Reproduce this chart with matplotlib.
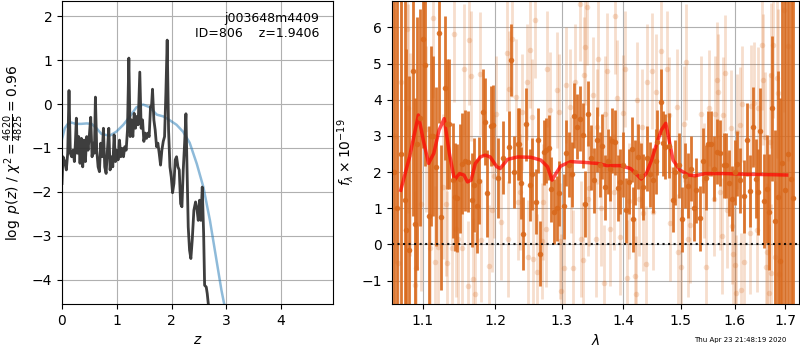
import numpy as np
import matplotlib
matplotlib.use("Agg")
import matplotlib.pyplot as plt
from matplotlib.ticker import FixedLocator, NullLocator, FixedFormatter

# p(z) curve (black)
z_pz = [0.0, 0.018, 0.049, 0.079, 0.104, 0.128, 0.152, 0.177, 0.201, 0.226, 0.244, 0.262, 0.280,
        0.305, 0.329, 0.354, 0.378, 0.402, 0.427, 0.451, 0.476, 0.500, 0.524, 0.549, 0.573, 0.591,
        0.610, 0.634, 0.659, 0.683, 0.707, 0.732, 0.756, 0.780, 0.805, 0.829, 0.854, 0.878, 0.902,
        0.927, 0.951, 0.976, 1.000, 1.024, 1.049, 1.073, 1.098, 1.122, 1.146, 1.171, 1.195, 1.220,
        1.244, 1.268, 1.293, 1.317, 1.341, 1.366, 1.390, 1.420, 1.445, 1.470, 1.494, 1.518, 1.543,
        1.567, 1.591, 1.616, 1.634, 1.652, 1.677, 1.701, 1.726, 1.750, 1.774, 1.799, 1.823, 1.848,
        1.872, 1.896, 1.920, 1.945, 1.970, 1.994, 2.018, 2.043, 2.067, 2.091, 2.116, 2.140, 2.165,
        2.189, 2.213, 2.238, 2.262, 2.274, 2.304, 2.328, 2.352, 2.377, 2.407, 2.438, 2.462, 2.487,
        2.511, 2.535, 2.560, 2.585, 2.603, 2.633, 2.651, 2.676]
logp = [-1.81, -1.20, -1.31, -1.50, -1.12, 0.31, -1.12, -1.20, -1.05, -1.31, -0.89, -0.32, -1.12,
        -0.74, -1.35, -0.78, -1.43, -0.82, -1.31, -0.74, -1.05, -0.70, -0.30, -1.20, -0.89, -1.12,
        0.16, -1.05, -1.43, -1.54, -0.89, -1.20, -0.55, -1.43, -1.58, -1.05, -0.55, -1.50, -1.20,
        -1.43, -0.70, -1.31, -1.05, -1.27, -0.82, -1.20, -1.01, -1.20, -0.97, -1.05, -0.59, 1.05,
        -0.74, -0.36, -0.74, -0.21, -0.55, -0.28, -0.47, 0.73, -0.55, -0.36, -0.85, -0.66, -0.78,
        -0.66, -0.74, -0.05, -0.05, 0.34, -0.36, -0.59, -0.97, -0.89, -1.12, -1.39, -1.05, -0.85,
        -0.74, 0.25, 1.46, -0.59, -1.43, -1.66, -2.02, -1.81, -1.27, -1.20, -1.43, -1.50, -2.27,
        -2.34, -1.50, -0.89, -0.22, -0.97, -2.80, -3.33, -3.52, -3.10, -2.42, -2.23, -2.38, -2.65,
        -2.19, -2.65, -1.89, -2.95, -4.13, -4.17, -4.32, -4.62]

# prior (blue)
z_prior = [0.0, 0.05, 0.10, 0.17, 0.25, 0.35, 0.45, 0.54, 0.63, 0.72, 0.87, 0.99, 1.12, 1.24,
           1.36, 1.48, 1.60, 1.73, 1.85, 1.97, 2.09, 2.21, 2.33, 2.46, 2.58, 2.70, 2.82, 2.91, 2.97]
prior = [-0.80, -0.55, -0.46, -0.42, -0.45, -0.45, -0.44, -0.45, -0.55, -0.68, -0.72, -0.63,
         -0.47, -0.28, -0.07, -0.01, -0.07, -0.24, -0.28, -0.37, -0.47, -0.63, -0.88, -1.36,
         -1.89, -2.65, -3.56, -4.24, -4.62]

# spectrum, dark points
wave1 = [1.063, 1.067, 1.072, 1.0765, 1.079, 1.082, 1.087, 1.090, 1.093, 1.097, 1.1006, 1.103,
         1.108, 1.111, 1.114, 1.118, 1.1224, 1.125, 1.1304, 1.133, 1.136, 1.1406, 1.144, 1.147,
         1.151, 1.154, 1.158, 1.161, 1.1676, 1.170, 1.174, 1.1775, 1.183, 1.186, 1.189, 1.1945,
         1.197, 1.205, 1.211, 1.220, 1.223, 1.228, 1.233, 1.2355, 1.238, 1.241, 1.246, 1.251,
         1.254, 1.260, 1.264, 1.267, 1.273, 1.276, 1.280, 1.284, 1.288, 1.292, 1.296, 1.303,
         1.307, 1.311, 1.316, 1.320, 1.324, 1.329, 1.333, 1.337, 1.342, 1.346, 1.351, 1.357,
         1.361, 1.365, 1.370, 1.374, 1.378, 1.381, 1.386, 1.391, 1.395, 1.400, 1.404, 1.410,
         1.414, 1.417, 1.420, 1.424, 1.429, 1.434, 1.440, 1.445, 1.451, 1.455, 1.458, 1.464,
         1.468, 1.472, 1.478, 1.485, 1.490, 1.496, 1.502, 1.507, 1.513, 1.518, 1.523, 1.527,
         1.5346, 1.541, 1.545, 1.550, 1.556, 1.561, 1.567, 1.572, 1.579, 1.584, 1.590, 1.595,
         1.600, 1.605, 1.611, 1.618, 1.623, 1.6295, 1.635, 1.642, 1.646, 1.650, 1.657, 1.663,
         1.668, 1.673, 1.680, 1.685, 1.690, 1.694, 1.700, 1.706, 1.711, 1.717]
flux1 = [2.0, 1.0, 2.5, 1.24, 0.41, -0.14, 4.79, 0.56, 2.79, 3.5, 5.67, 4.97,
         0.78, 3.0, 3.0, 2.15, 5.86, 0.75, 4.33, 3.34, 3.32, 1.77, 1.31, 1.29,
         1.82, 2.23, 2.32, 2.29, 1.22, 1.64, 1.06, 1.76, 3.65, 3.39, 1.41, 3.28,
         3.3, 1.83, 2.4, 2.70, 5.10, 2.0, 2.77, 2.77, 1.70, 0.30, 3.32, 1.64,
         1.94, 1.18, 2.88, -0.25, 2.55, 2.6, 2.68, 1.52, 0.9, 1.0, 1.41, 1.05,
         2.53, 2.2, 1.94, 3.56, 3.26, 3.48, 3.02, 1.12, 3.62, 2.4, 1.77, 2.90,
         2.2, 2.72, 1.58, 2.3, 2.10, 2.87, 2.83, 1.56, 1.74, 2.2, 0.94, 1.74,
         2.63, 0.70, 2.0, 2.42, 1.9, 1.59, 2.38, 1.94, 1.78, 2.3, 2.83, 3.94,
         2.8, 2.70, 2.73, 1.24, 2.0, 2.19, 0.70, 1.9, 1.62, 2.1, 1.0, 1.5,
         0.72, 2.31, 1.85, 2.79, 2.79, 2.10, 2.56, 2.53, 2.19, 2.19, 1.70, 1.27,
         2.0, 2.23, 1.77, 1.33, 2.90, 1.48, 3.25, 1.82, 1.45, 3.13, 1.20, 1.54,
         0.89, 3.76, 0.66, 1.30, -0.45, 2.25, 1.5, 2.50, 1.8, 1.29]
err1 = [7.0, 7.0, 6.0, 5.5, 5.0, 4.8, 4.0, 3.5, 3.5, 3.0, 3.0, 2.8,
        2.5, 2.5, 2.2, 2.2, 2.5, 2.0, 2.0, 1.8, 1.8, 1.6, 1.5, 1.5,
        1.5, 1.4, 1.4, 1.4, 1.3, 1.3, 1.3, 1.2, 1.2, 1.2, 1.2, 1.1,
        1.1, 1.1, 1.0, 1.0, 1.0, 1.0, 1.0, 1.0, 1.0, 1.0, 1.0, 1.0,
        1.0, 0.9, 0.9, 0.9, 0.9, 0.9, 0.9, 0.9, 0.9, 0.9, 0.9, 0.9,
        0.9, 0.9, 0.9, 0.9, 0.9, 0.9, 0.9, 0.9, 0.9, 0.9, 0.9, 0.9,
        0.9, 0.9, 0.9, 0.9, 0.9, 0.9, 0.9, 0.9, 0.9, 0.9, 0.9, 0.9,
        0.9, 0.9, 0.9, 0.9, 0.9, 0.9, 0.9, 0.9, 0.9, 0.9, 0.9, 0.9,
        0.9, 0.9, 0.9, 0.9, 0.9, 0.9, 0.9, 0.9, 0.9, 0.9, 0.9, 0.9,
        0.9, 0.9, 0.9, 0.9, 0.9, 0.9, 0.9, 0.9, 0.9, 0.9, 0.9, 0.9,
        0.9, 0.9, 0.9, 1.0, 1.0, 1.0, 1.1, 1.1, 1.2, 1.2, 1.3, 1.5,
        1.6, 2.0, 2.5, 3.5, 4.5, 5.5, 6.5, 7.0, 7.0, 7.0]

# spectrum, light points (other beam)
wave2 = [1.064, 1.068, 1.072, 1.0795, 1.081, 1.084, 1.0896, 1.091, 1.0985, 1.105, 1.1138, 1.110,
         1.116, 1.120, 1.128, 1.131, 1.133, 1.140, 1.143, 1.145, 1.148, 1.153, 1.156, 1.1615,
         1.163, 1.166, 1.169, 1.172, 1.178, 1.180, 1.191, 1.195, 1.198, 1.202, 1.209, 1.217,
         1.219, 1.221, 1.224, 1.231, 1.234, 1.237, 1.240, 1.247, 1.249, 1.252, 1.255, 1.256,
         1.259, 1.262, 1.269, 1.271, 1.276, 1.278, 1.282, 1.293, 1.2955, 1.297, 1.299, 1.303,
         1.307, 1.313, 1.315, 1.318, 1.321, 1.329, 1.331, 1.334, 1.337, 1.336, 1.340, 1.342,
         1.344, 1.350, 1.356, 1.354, 1.358, 1.363, 1.370, 1.368, 1.372, 1.378, 1.384, 1.386,
         1.389, 1.394, 1.400, 1.403, 1.406, 1.410, 1.419, 1.421, 1.423, 1.426, 1.431, 1.434,
         1.438, 1.441, 1.448, 1.450, 1.456, 1.464, 1.475, 1.478, 1.480, 1.493, 1.494, 1.500,
         1.506, 1.510, 1.512, 1.516, 1.536, 1.542, 1.545, 1.551, 1.560, 1.563, 1.567, 1.569,
         1.572, 1.577, 1.575, 1.581, 1.585, 1.592, 1.594, 1.597, 1.600, 1.6047, 1.603, 1.611,
         1.613, 1.615, 1.618, 1.629, 1.631, 1.638, 1.644, 1.646, 1.653, 1.655, 1.659, 1.661,
         1.664, 1.668, 1.670, 1.671, 1.672, 1.675, 1.680, 1.684, 1.686, 1.688, 1.698, 1.705]
flux2 = [3.0, -0.5, 4.5, 5.97, 3.76, 2.49, -1.11, -0.65, 1.12, 3.2, 6.25, -0.09,
         -0.48, -0.06, 1.60, 1.12, -0.52, -0.11, 5.83, 0.44, 0.16, -0.11, 4.84, -1.15,
         5.65, 4.65, -0.96, -1.37, 4.72, 0.12, -0.6, 0.95, 1.89, 3.60, 0.62, 5.28,
         0.16, 4.31, 5.68, 4.08, 1.18, 1.46, 3.67, 4.5, -0.36, 5.37, 3.53, -0.39,
         6.21, -0.76, 0.09, 1.18, 0.42, 4.86, 3.72, 4.28, 3.67, 0.09, -1.3, -0.66,
         4.4, 3.81, 1.92, -0.66, 4.5, 6.66, 0.16, -0.43, 5.46, 4.68, 6.57, 1.27,
         1.55, 4.13, 3.26, 0.16, 5.14, 1.0, 3.62, -1.06, 4.79, 0.44, 1.46, 6.31,
         4.04, 0.21, 3.64, 4.86, -0.92, 1.20, -0.87, -1.36, 3.99, 1.27, 3.24, 0.88,
         -0.53, 4.50, 4.79, 0.90, 4.22, 5.34, 4.86, 3.58, 0.58, 3.81, -0.2, -0.62,
         3.33, 5.05, 0.16, 0.53, 3.62, 1.77, -0.62, 3.78, 1.27, 3.62, 4.54, 4.22,
         1.45, 3.57, 0.23, 4.75, 0.95, 3.21, 0.51, -0.25, -0.57, 3.12, -1.34, 3.3,
         -1.27, 3.88, -0.48, 0.32, 3.82, 3.9, 0.39, 3.76, 5.51, 4.56, 2.98, -0.62,
         -0.21, -1.34, 2.84, -0.79, 4.68, 5.51, -0.34, 4.59, 4.2, -0.82, 6.47, 5.5]
err2 = [3.5, 3.5, 3.2, 3.0, 2.9, 2.8, 2.6, 2.6, 2.4, 2.3, 2.2, 2.2,
        2.1, 2.1, 2.0, 2.0, 2.0, 1.9, 1.9, 1.9, 1.9, 1.8, 1.8, 1.8,
        1.8, 1.8, 1.7, 1.7, 1.7, 1.7, 1.7, 1.7, 1.7, 1.6, 1.6, 1.6,
        1.6, 1.6, 1.6, 1.6, 1.6, 1.6, 1.6, 1.6, 1.6, 1.6, 1.6, 1.6,
        1.6, 1.6, 1.6, 1.6, 1.6, 1.6, 1.6, 1.6, 1.6, 1.6, 1.6, 1.6,
        1.6, 1.6, 1.6, 1.6, 1.6, 1.6, 1.6, 1.6, 1.6, 1.6, 1.6, 1.6,
        1.6, 1.6, 1.6, 1.6, 1.6, 1.6, 1.6, 1.6, 1.6, 1.6, 1.6, 1.6,
        1.6, 1.6, 1.6, 1.6, 1.6, 1.6, 1.6, 1.6, 1.6, 1.6, 1.6, 1.6,
        1.6, 1.6, 1.6, 1.6, 1.6, 1.6, 1.6, 1.6, 1.6, 1.6, 1.6, 1.6,
        1.6, 1.6, 1.6, 1.6, 1.6, 1.6, 1.6, 1.6, 1.6, 1.6, 1.6, 1.6,
        1.6, 1.6, 1.6, 1.6, 1.6, 1.6, 1.6, 1.6, 1.6, 1.6, 1.6, 1.6,
        1.6, 1.6, 1.6, 1.7, 1.7, 1.7, 1.7, 1.7, 1.8, 1.8, 1.8, 1.8,
        1.9, 1.9, 1.9, 1.9, 2.0, 2.0, 2.1, 2.2, 2.3, 2.3, 2.8, 3.2]

# best-fit model (red)
wave_m = [1.0716, 1.083, 1.0945, 1.101, 1.108, 1.115, 1.122, 1.129, 1.136, 1.143, 1.150, 1.156,
          1.161, 1.166, 1.172, 1.179, 1.186, 1.193, 1.2025, 1.2076, 1.218, 1.233, 1.253, 1.268,
          1.278, 1.285, 1.291, 1.2985, 1.314, 1.336, 1.357, 1.373, 1.395, 1.412, 1.421, 1.430,
          1.439, 1.448, 1.457, 1.465, 1.473, 1.479, 1.486, 1.498, 1.513, 1.526, 1.544, 1.580,
          1.625, 1.671, 1.703]
model = [1.50, 2.42, 3.58, 2.88, 2.24, 2.52, 3.16, 3.48, 2.52, 1.78, 1.96, 1.92,
         1.73, 1.78, 2.24, 2.42, 2.47, 2.42, 2.15, 2.10, 2.35, 2.42, 2.41, 2.33,
         2.15, 1.78, 1.96, 2.17, 2.29, 2.27, 2.24, 2.18, 2.18, 2.10, 1.96, 1.81,
         1.96, 2.33, 2.79, 3.16, 3.35, 2.88, 2.33, 2.06, 1.92, 1.90, 1.96, 1.96,
         1.94, 1.93, 1.92]

orange = '#d9691c'

fig = plt.figure(figsize=(8, 3.5), dpi=100)
ax1 = fig.add_axes([0.0775, 0.131, 0.339, 0.866])
ax2 = fig.add_axes([0.4896, 0.131, 0.5095, 0.866])

# left: p(z)
ax1.plot(z_prior, prior, color='#1f77b4', alpha=0.5, lw=1.8)
ax1.plot(z_pz, logp, color='0.2', lw=2, alpha=0.95)
ax1.set_xlim(0, 4.95)
ax1.set_ylim(-4.56, 2.35)
ax1.set_xticks([0, 1, 2, 3, 4])
ax1.set_yticks([-4, -3, -2, -1, 0, 1, 2])
ax1.grid()
ax1.set_xlabel('$z$')
ax1.set_ylabel(r'$\log\ p(z)$' + ' / ' + r'$\chi^2=\frac{4620}{4825}=0.96$')
ax1.text(0.948, 0.965, 'j003648m4409\nID=806    z=1.9406', transform=ax1.transAxes,
         ha='right', va='top', fontsize=9, linespacing=1.25)

# right: spectrum
ax2.errorbar(wave2, flux2, yerr=err2, fmt='o', color=orange, alpha=0.22, ms=4,
             elinewidth=2, mec='none')
ax2.errorbar(wave1, flux1, yerr=err1, fmt='o', color=orange, alpha=0.9, ms=4,
             elinewidth=2, mec='none')
ax2.plot(wave_m, model, color='r', alpha=0.7, lw=2.5)
ax2.axhline(0, color='k', ls=':', lw=1.5, alpha=0.9)
ax2.set_xscale('log')
ax2.set_xlim(1.06, 1.729)
ax2.set_ylim(-1.65, 6.73)
xt = [1.1, 1.2, 1.3, 1.4, 1.5, 1.6, 1.7]
ax2.xaxis.set_major_locator(FixedLocator(xt))
ax2.xaxis.set_major_formatter(FixedFormatter(['%.1f' % v for v in xt]))
ax2.xaxis.set_minor_locator(NullLocator())
ax2.set_yticks([-1, 0, 1, 2, 3, 4, 5, 6])
ax2.grid()
ax2.set_xlabel(r'$\lambda$')
ax2.set_ylabel(r'$f_\lambda\times10^{-19}$')

fig.text(0.983, 0.028, 'Thu Apr 23 21:48:19 2020', ha='right', va='center', fontsize=5)

fig.savefig('out.png', dpi=100)
